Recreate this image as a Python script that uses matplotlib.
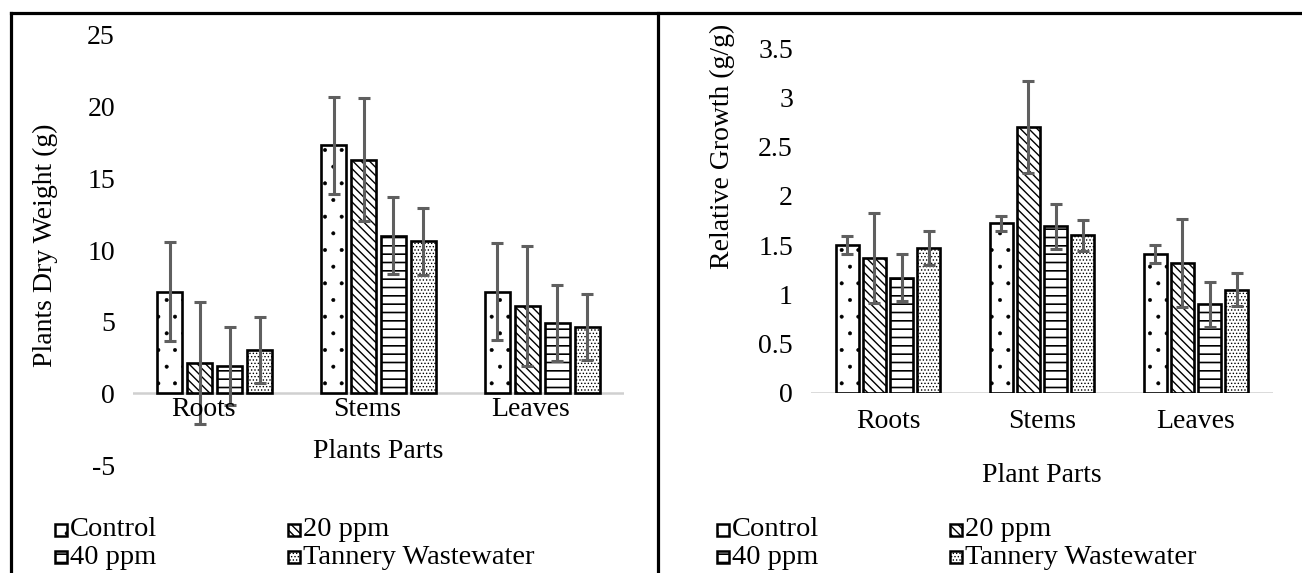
"""
Plant dry weight and relative growth per plant part, four treatments.
Two side-by-side bar panels with error bars, hatched in the Excel style.
"""

import matplotlib
matplotlib.use("Agg")
import matplotlib.pyplot as plt
from matplotlib.patches import Rectangle
from matplotlib.lines import Line2D
import numpy as np

plt.rcParams["font.family"] = ["Liberation Serif", "DejaVu Serif"]
plt.rcParams["hatch.color"] = "black"
plt.rcParams["hatch.linewidth"] = 0.9

# ── Data ──────────────────────────────────────────────────────────────────────
parts = ["Roots", "Stems", "Leaves"]
treatments = ["Control", "20 ppm", "40 ppm", "Tannery Wastewater"]

# Plants dry weight (g)
dw_control = [7.1, 17.3, 7.1]
dw_20ppm = [2.1, 16.3, 6.1]
dw_40ppm = [1.9, 11.0, 4.9]
dw_tannery = [3.0, 10.6, 4.6]
dw_control_err = [3.45, 3.4, 3.4]
dw_20ppm_err = [4.25, 4.3, 4.2]
dw_40ppm_err = [2.7, 2.7, 2.65]
dw_tannery_err = [2.3, 2.35, 2.3]

# Relative growth (g/g)
rg_control = [1.50, 1.72, 1.41]
rg_20ppm = [1.37, 2.70, 1.32]
rg_40ppm = [1.17, 1.69, 0.90]
rg_tannery = [1.47, 1.60, 1.05]
rg_control_err = [0.09, 0.08, 0.09]
rg_20ppm_err = [0.46, 0.47, 0.45]
rg_40ppm_err = [0.24, 0.23, 0.23]
rg_tannery_err = [0.17, 0.16, 0.17]

# ── Style ─────────────────────────────────────────────────────────────────────
HATCHES = [".", "\\\\\\\\", "--", "....."]
HATCH_LW = [0.4, 1.0, 1.2, 0.6]
FS = 20
W, H = 1302, 573


def fx(x):
    return x / W


def fy(y):
    return 1 - y / H


def set_hlw(patch, lw):
    # per-artist hatch width where the matplotlib version supports it
    if hasattr(patch, "set_hatch_linewidth"):
        patch.set_hatch_linewidth(lw)


def draw_panel(ax, series, errors, step, width, yticks, ticklabels, ylim):
    x = np.arange(len(parts))
    for i, (vals, errs) in enumerate(zip(series, errors)):
        bars = ax.bar(x + (i - 1.5) * step, vals, width, color="white",
                      edgecolor="black", linewidth=1.9, hatch=HATCHES[i],
                      zorder=2)
        for b in bars:
            set_hlw(b, HATCH_LW[i])
        ax.errorbar(x + (i - 1.5) * step, vals, yerr=errs, fmt="none",
                    ecolor="#5f5f5f", elinewidth=2.2, capsize=4.5,
                    capthick=2.2, zorder=3)
    ax.axhline(0, color="#d0d0d0", lw=1.8, zorder=1)
    ax.set_xlim(-0.5, len(parts) - 0.5)
    ax.set_ylim(*ylim)
    ax.set_yticks(yticks)
    ax.set_yticklabels(ticklabels, fontsize=FS)
    ax.set_xticks([])
    ax.tick_params(axis="y", length=0, pad=13)
    for s in ax.spines.values():
        s.set_visible(False)
    ax.patch.set_alpha(0)
    return x


fig = plt.figure(figsize=(W / 100, H / 100), dpi=100)

# ── Left panel: dry weight ───────────────────────────────────────────────────
ax1 = fig.add_axes([fx(133), fy(465), fx(624) - fx(133), fy(35) - fy(465)])
x1 = draw_panel(ax1, [dw_control, dw_20ppm, dw_40ppm, dw_tannery],
                [dw_control_err, dw_20ppm_err, dw_40ppm_err, dw_tannery_err],
                0.183, 0.153, [-5, 0, 5, 10, 15, 20, 25],
                ["-5", "0", "5", "10", "15", "20", "25"], (-5, 25))
for xi, p in zip(x1, parts):
    ax1.text(xi - 0.07, -1.1, p, ha="center", va="center", fontsize=FS)
fig.text(fx(378), fy(452), "Plants Parts", ha="center", va="center", fontsize=FS)
fig.text(fx(45), fy(245), "Plants Dry Weight (g)", rotation=90,
         ha="center", va="center", fontsize=FS)

# ── Right panel: relative growth ─────────────────────────────────────────────
ax2 = fig.add_axes([fx(811), fy(393), fx(1273) - fx(811), fy(48) - fy(393)])
x2 = draw_panel(ax2, [rg_control, rg_20ppm, rg_40ppm, rg_tannery],
                [rg_control_err, rg_20ppm_err, rg_40ppm_err, rg_tannery_err],
                0.177, 0.149, [0, 0.5, 1, 1.5, 2, 2.5, 3, 3.5],
                ["0", "0.5", "1", "1.5", "2", "2.5", "3", "3.5"], (0, 3.5))
for xi, p in zip(x2, parts):
    ax2.text(xi, -0.29, p, ha="center", va="center", fontsize=FS)
fig.text(fx(1042), fy(475), "Plant Parts", ha="center", va="center", fontsize=FS)
fig.text(fx(722), fy(146), "Relative Growth (g/g)", rotation=90,
         ha="center", va="center", fontsize=FS)

# ── Legends (drawn by hand, 2 x 2) ───────────────────────────────────────────
for x0 in (55, 717):
    for i, name in enumerate(treatments):
        lx = x0 + (i % 2) * 233
        ly = 530 + (i // 2) * 27
        r = Rectangle((fx(lx), fy(ly + 6)), fx(12), 12 / H,
                      transform=fig.transFigure, facecolor="white",
                      edgecolor="black", linewidth=1.8, hatch=HATCHES[i])
        set_hlw(r, HATCH_LW[i])
        fig.add_artist(r)
        fig.text(fx(lx + 15), fy(ly), name, ha="left", va="center",
                 fontsize=20.5)

# ── Panel borders ─────────────────────────────────────────────────────────────
for xs, ys in [((11, 11), (13, 573)), ((11, 1302), (13, 13)),
               ((658, 658), (13, 573))]:
    fig.add_artist(Line2D([fx(v) for v in xs], [fy(v) for v in ys],
                          color="black", lw=2.3, transform=fig.transFigure))

fig.savefig("out.png", dpi=100)
